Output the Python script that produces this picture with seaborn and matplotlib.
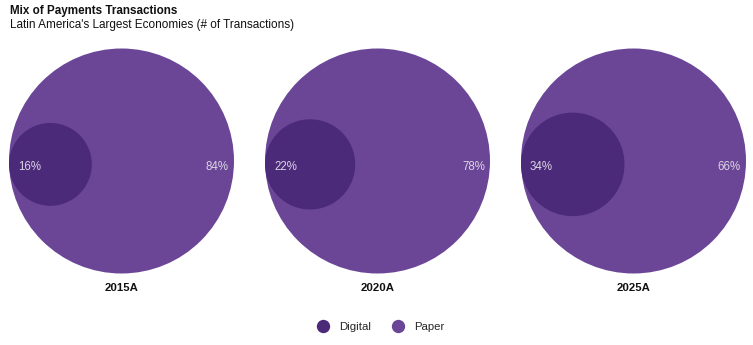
import numpy as np
import matplotlib
matplotlib.use("Agg")
import matplotlib.pyplot as plt
from matplotlib.patches import Circle
from matplotlib.lines import Line2D
import seaborn as sns

# ---- data ----
years = ["2015A", "2020A", "2025A"]
digital = [16, 22, 34]
paper = [84, 78, 66]
series = ["Digital", "Paper"]

sns.set_theme(style="white")
plt.rcParams["font.family"] = ["Liberation Sans", "DejaVu Sans"]

palette = sns.color_palette(["#4b2a79", "#6b4697"])
colors = dict(zip(series, palette))
label_color = "#dcd5e6"

W, H = 753, 345
fig = plt.figure(figsize=(W / 100, H / 100), dpi=100)

R_PX = 112.5
LIM = 1.02
side = 2 * LIM * R_PX
cx0, step, cy = 121.5, 256, 161

# bubble size scale for the Digital share (area linear within a range)
area_range = (0.1354, 0.2116)
dmin, dmax = min(digital), max(digital)


def radius(v):
    a = area_range[0] + (v - dmin) / (dmax - dmin) * (area_range[1] - area_range[0])
    return np.sqrt(a)


for i, (yr, d, p) in enumerate(zip(years, digital, paper)):
    cx = cx0 + step * i
    ax = fig.add_axes([(cx - side / 2) / W, (H - cy - side / 2) / H, side / W, side / H])
    ax.set_xlim(-LIM, LIM)
    ax.set_ylim(-LIM, LIM)
    ax.set_aspect("equal")
    ax.axis("off")
    ax.add_patch(Circle((0, 0), 1, facecolor=colors["Paper"], lw=0))
    r = radius(d)
    ax.add_patch(Circle((-1 + r, -0.03), r, facecolor=colors["Digital"], lw=0))
    ax.text(-0.92, -0.052, f"{d}%", ha="left", va="center", color=label_color, fontsize=8.3)
    ax.text(0.955, -0.052, f"{p}%", ha="right", va="center", color=label_color, fontsize=8.3)
    ax.text(0, -1.13, yr, ha="center", va="center", color="#111111", fontsize=8.2,
            fontweight="bold", clip_on=False)

fig.text(10 / W, 1 - 11 / H, "Mix of Payments Transactions", fontsize=8.4,
         fontweight="bold", color="#111111", ha="left", va="center")
fig.text(10 / W, 1 - 25 / H, "Latin America's Largest Economies (# of Transactions)",
         fontsize=8.45, color="#111111", ha="left", va="center")

handles = [Line2D([], [], marker="o", ls="", markersize=9.6, markerfacecolor=colors[s],
                  markeredgewidth=0, label=s) for s in series]
fig.legend(handles=handles, loc="center", bbox_to_anchor=(380 / W, 1 - 327 / H), ncol=2,
           frameon=False, fontsize=8.2, handletextpad=0.8, columnspacing=1.8,
           handlelength=1.2)

fig.savefig("out.png", dpi=100)
